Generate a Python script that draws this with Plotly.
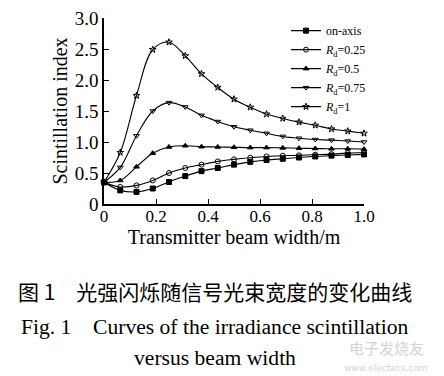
import plotly.graph_objects as go

# ---- data ----
beam_width = [i / 16 for i in range(17)]  # transmitter beam width / m
on_axis = [0.35, 0.22, 0.195, 0.25, 0.355, 0.45, 0.53, 0.58, 0.635, 0.68, 0.71, 0.73, 0.75, 0.767, 0.78, 0.79, 0.80]
rd_025 = [0.35, 0.275, 0.30, 0.38, 0.50, 0.58, 0.635, 0.687, 0.72, 0.746, 0.767, 0.778, 0.785, 0.795, 0.805, 0.82, 0.83]
rd_05 = [0.35, 0.38, 0.60, 0.82, 0.92, 0.94, 0.925, 0.92, 0.915, 0.91, 0.91, 0.905, 0.90, 0.895, 0.89, 0.89, 0.885]
rd_075 = [0.35, 0.59, 1.10, 1.50, 1.635, 1.565, 1.43, 1.33, 1.245, 1.19, 1.14, 1.09, 1.06, 1.04, 1.03, 1.015, 1.0]
rd_1 = [0.35, 0.83, 1.75, 2.49, 2.61, 2.39, 2.10, 1.88, 1.69, 1.56, 1.45, 1.38, 1.32, 1.27, 1.21, 1.175, 1.14]

series_names = ["on-axis", "<i>R</i><sub>d</sub>=0.25", "<i>R</i><sub>d</sub>=0.5",
                "<i>R</i><sub>d</sub>=0.75", "<i>R</i><sub>d</sub>=1"]
series_values = [on_axis, rd_025, rd_05, rd_075, rd_1]
series_markers = ["square", "circle-open", "triangle-up", "triangle-down-open", "star-open"]

x_tick_vals = [0, 0.2, 0.4, 0.6, 0.8, 1.0]
x_tick_text = ["0", "0.2", "0.4", "0.6", "0.8", "1.0"]
y_tick_vals = [0, 0.5, 1.0, 1.5, 2.0, 2.5, 3.0]
y_tick_text = ["0", "0.5", "1.0", "1.5", "2.0", "2.5", "3.0"]

SERIF = "Liberation Serif, Times New Roman, serif"

fig = go.Figure()
for name, vals, sym in zip(series_names, series_values, series_markers):
    fig.add_trace(go.Scatter(
        x=beam_width, y=vals, name=name, mode="lines+markers",
        line=dict(color="black", width=1.1, shape="spline", smoothing=1.0),
        marker=dict(symbol=sym, size=5, color="black", line=dict(color="black", width=1)),
        cliponaxis=False,
    ))

fig.update_layout(
    width=444, height=376,
    margin=dict(l=96, r=88, t=10, b=180, autoexpand=False),
    paper_bgcolor="white", plot_bgcolor="white",
    showlegend=True,
    legend=dict(x=0.70, y=1.01, xanchor="left", yanchor="top",
                font=dict(family=SERIF, size=12, color="black"),
                bgcolor="rgba(0,0,0,0)", tracegroupgap=0, itemwidth=30),
    xaxis=dict(range=[0, 1.0], tickvals=x_tick_vals, ticktext=x_tick_text, automargin=False,
               showgrid=False, zeroline=False, showline=True, linecolor="black", linewidth=1.5,
               ticks="inside", ticklen=5, tickcolor="black", tickwidth=1.2,
               ticklabelstandoff=-4, ticklabeloverflow="allow",
               tickfont=dict(family=SERIF, size=17, color="black"),
               title=dict(text="Transmitter beam width/m", font=dict(family=SERIF, size=20, color="black"), standoff=0)),
    yaxis=dict(range=[0, 3.0], tickvals=y_tick_vals, ticktext=y_tick_text, automargin=False,
               showgrid=False, zeroline=False, showline=True, linecolor="black", linewidth=1.5,
               ticks="inside", ticklen=5, tickcolor="black", tickwidth=1.2,
               ticklabeloverflow="allow",
               tickfont=dict(family=SERIF, size=19, color="black"),
               title=dict(text="Scintillation index", font=dict(family=SERIF, size=20, color="black"), standoff=2)),
)

CJK = "Noto Sans CJK SC, Noto Sans CJK JP, sans-serif"
fig.add_annotation(text="图 1　光强闪烁随信号光束宽度的变化曲线", xref="paper", yref="paper",
                   x=0.428, y=-0.468, xanchor="center", yanchor="middle", showarrow=False,
                   font=dict(family=CJK, size=21, color="black"))
fig.add_annotation(text="Fig. 1    Curves of the irradiance scintillation", xref="paper", yref="paper",
                   x=0.428, y=-0.661, xanchor="center", yanchor="middle", showarrow=False,
                   font=dict(family=SERIF, size=21.6, color="black"))
fig.add_annotation(text="versus beam width", xref="paper", yref="paper",
                   x=0.428, y=-0.828, xanchor="center", yanchor="middle", showarrow=False,
                   font=dict(family=SERIF, size=21.6, color="black"))
# faint watermark
fig.add_annotation(text="电子发烧友", xref="paper", yref="paper",
                   x=1.085, y=-0.772, xanchor="center", yanchor="middle", showarrow=False,
                   font=dict(family=CJK, size=15, color="#d4d4d4"))
fig.add_annotation(text="www.elecfans.com", xref="paper", yref="paper",
                   x=1.085, y=-0.884, xanchor="center", yanchor="middle", showarrow=False,
                   font=dict(family="DejaVu Sans", size=9, color="#d4d4d4"))

fig.write_html("out.html")
